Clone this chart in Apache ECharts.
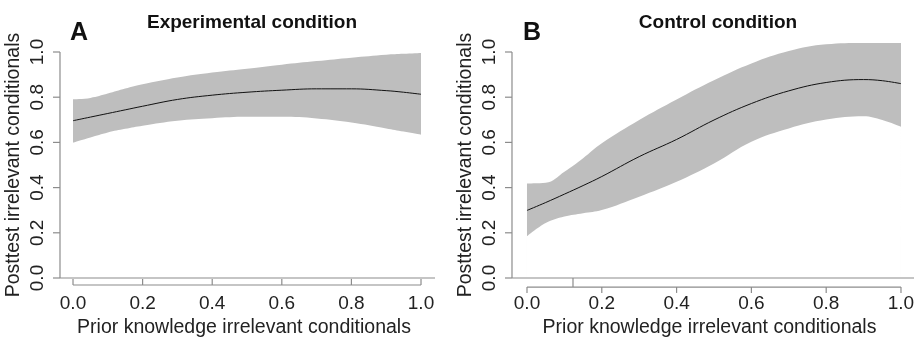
<!DOCTYPE html>
<html>
<head>
<meta charset="utf-8">
<script src="https://cdn.jsdelivr.net/npm/echarts@6/dist/echarts.min.js"></script>
<style>
    html, body { margin: 0; padding: 0; background: #fff; }
    #main { width: 919px; height: 337px; }
</style>
</head>
<body>
<div id="main"></div>
<script>
// x 位置
var xs = [0, 0.05, 0.1, 0.15, 0.2, 0.3, 0.4, 0.5, 0.6, 0.7, 0.8, 0.9, 0.95, 1.0];
// A: 实验组
var expLine  = [0.696, 0.712, 0.728, 0.744, 0.760, 0.790, 0.809, 0.822, 0.831, 0.837, 0.837, 0.829, 0.822, 0.813];
var expUpper = [0.791, 0.797, 0.816, 0.838, 0.857, 0.887, 0.909, 0.926, 0.944, 0.960, 0.975, 0.988, 0.992, 0.996];
var expLower = [0.599, 0.622, 0.644, 0.660, 0.674, 0.696, 0.707, 0.713, 0.713, 0.706, 0.688, 0.662, 0.648, 0.634];
// B: 对照组
var ctlLine  = [0.299, 0.334, 0.371, 0.409, 0.449, 0.537, 0.613, 0.699, 0.772, 0.828, 0.865, 0.878, 0.873, 0.860];
var ctlUpper = [0.418, 0.421, 0.470, 0.530, 0.596, 0.699, 0.790, 0.875, 0.949, 1.004, 1.034, 1.040, 1.040, 1.040];
var ctlLower = [0.184, 0.243, 0.272, 0.287, 0.301, 0.360, 0.426, 0.507, 0.603, 0.662, 0.701, 0.716, 0.699, 0.669];
var rugB = [0.123];
var ticks = [0, 0.2, 0.4, 0.6, 0.8, 1.0];

var FONT = 'Liberation Sans';
var AXIS_C = '#8c8c8c';
var BAND_C = '#bebebe';

// 每个面板的坐标范围（R 风格的轴线位置）
var panels = [
    { left: 53, right: 484, xMin: -0.0575, xMax: 1.0402, yLineX: -0.0374,
      xLineY: -0.031, xTickY: -0.004, offset: 7, labelMargin: 9, nameGap: 33 },
    { left: 505, right: 5, xMin: -0.0588, xMax: 1.0348, yLineX: -0.0401,
      xLineY: -0.04, xTickY: -0.066, offset: 9, labelMargin: 7, nameGap: 31 }
];

function pairs(ys) {
    return xs.map(function (x, i) { return [x, ys[i]]; });
}
function fmt(v) { return v.toFixed(1); }

function xAxisOf(gi) {
    var p = panels[gi];
    return {
        gridIndex: gi, type: 'value', min: p.xMin, max: p.xMax, position: 'bottom',
        offset: p.offset,
        name: 'Prior knowledge irrelevant conditionals',
        nameLocation: 'middle', nameGap: p.nameGap,
        nameTextStyle: { fontFamily: FONT, fontSize: 19.5, color: '#222' },
        axisLine: { show: false, onZero: false },
        axisTick: { show: false },
        axisLabel: {
            fontFamily: FONT, fontSize: 19, color: '#222', margin: p.labelMargin,
            customValues: ticks, formatter: fmt
        },
        splitLine: { show: false }
    };
}
function yAxisOf(gi) {
    return {
        gridIndex: gi, type: 'value', min: 0, max: 1, interval: 0.2,
        name: 'Posttest irrelevant conditionals',
        nameLocation: 'middle', nameGap: 29,
        nameTextStyle: { fontFamily: FONT, fontSize: 19.5, color: '#222' },
        axisLine: { show: false, onZero: false },
        axisTick: { show: false },
        axisLabel: {
            fontFamily: FONT, fontSize: 19, color: '#222', rotate: 90, margin: 6,
            formatter: fmt
        },
        splitLine: { show: false }
    };
}
function panelSeries(gi, up, lo, line) {
    return [
        {
            // 置信带上沿，灰色填充到 0
            type: 'line', xAxisIndex: gi, yAxisIndex: gi, z: 2,
            data: pairs(up), smooth: 0.4, symbol: 'none', clip: false,
            lineStyle: { width: 0, opacity: 0 },
            areaStyle: { color: BAND_C, opacity: 1 }, silent: true
        },
        {
            // 置信带下沿，白色填充盖住下面
            type: 'line', xAxisIndex: gi, yAxisIndex: gi, z: 3,
            data: pairs(lo), smooth: 0.4, symbol: 'none', clip: false,
            lineStyle: { width: 0, opacity: 0 },
            areaStyle: { color: '#fff', opacity: 1 }, silent: true
        },
        {
            type: 'line', xAxisIndex: gi, yAxisIndex: gi, z: 4,
            data: pairs(line), smooth: 0.4, symbol: 'none', clip: false,
            lineStyle: { color: '#111', width: 1 }, silent: true
        }
    ];
}

var myEchart = echarts.init(document.getElementById('main'));
var option = {
    animation: false,
    backgroundColor: '#fff',
    title: [
        { text: 'Experimental condition', left: 247, top: 8, textAlign: 'center',
          textStyle: { fontFamily: FONT, fontSize: 19, fontWeight: 'bold', color: '#111' } },
        { text: 'Control condition', left: 713, top: 8, textAlign: 'center',
          textStyle: { fontFamily: FONT, fontSize: 19, fontWeight: 'bold', color: '#111' } },
        { text: 'A', left: 65, top: 16,
          textStyle: { fontFamily: FONT, fontSize: 25, fontWeight: 'bold', color: '#111' } },
        { text: 'B', left: 518, top: 16,
          textStyle: { fontFamily: FONT, fontSize: 25, fontWeight: 'bold', color: '#111' } }
    ],
    grid: panels.map(function (p) {
        return { left: p.left, right: p.right, top: 52, bottom: 59,
                 containLabel: false, outerBoundsMode: 'none' };
    }),
    xAxis: [xAxisOf(0), xAxisOf(1)],
    yAxis: [yAxisOf(0), yAxisOf(1)],
    series: panelSeries(0, expUpper, expLower, expLine)
        .concat(panelSeries(1, ctlUpper, ctlLower, ctlLine))
};
myEchart.setOption(option);

// 轴线、刻度、rug：用坐标换算成像素后画成 graphic
function mapper(gi) {
    var p00 = myEchart.convertToPixel({ gridIndex: gi }, [0, 0]);
    var p11 = myEchart.convertToPixel({ gridIndex: gi }, [1, 1]);
    return function (x, y) {
        return [p00[0] + (p11[0] - p00[0]) * x, p00[1] + (p11[1] - p00[1]) * y];
    };
}
function lineEl(a, b) {
    return {
        type: 'line', z: 100, silent: true,
        shape: { x1: a[0], y1: a[1], x2: b[0], y2: b[1] },
        style: { stroke: AXIS_C, lineWidth: 1.2 }
    };
}
var graphics = [];
panels.forEach(function (p, gi) {
    var m = mapper(gi);
    // y 轴线
    graphics.push(lineEl(m(p.yLineX, 0), m(p.yLineX, 1)));
    // y=0 横线
    graphics.push(lineEl(m(p.yLineX, 0), m(p.xMax, 0)));
    // x 轴线
    graphics.push(lineEl(m(0, p.xLineY), m(1, p.xLineY)));
    ticks.forEach(function (t) {
        graphics.push(lineEl(m(p.xMin, t), m(p.yLineX, t)));
        graphics.push(lineEl(m(t, p.xLineY), m(t, p.xTickY)));
    });
});
var mB = mapper(1);
rugB.forEach(function (r) {
    graphics.push(lineEl(mB(r, 0), mB(r, panels[1].xLineY)));
});
myEchart.setOption({ graphic: graphics });
</script>
</body>
</html>
